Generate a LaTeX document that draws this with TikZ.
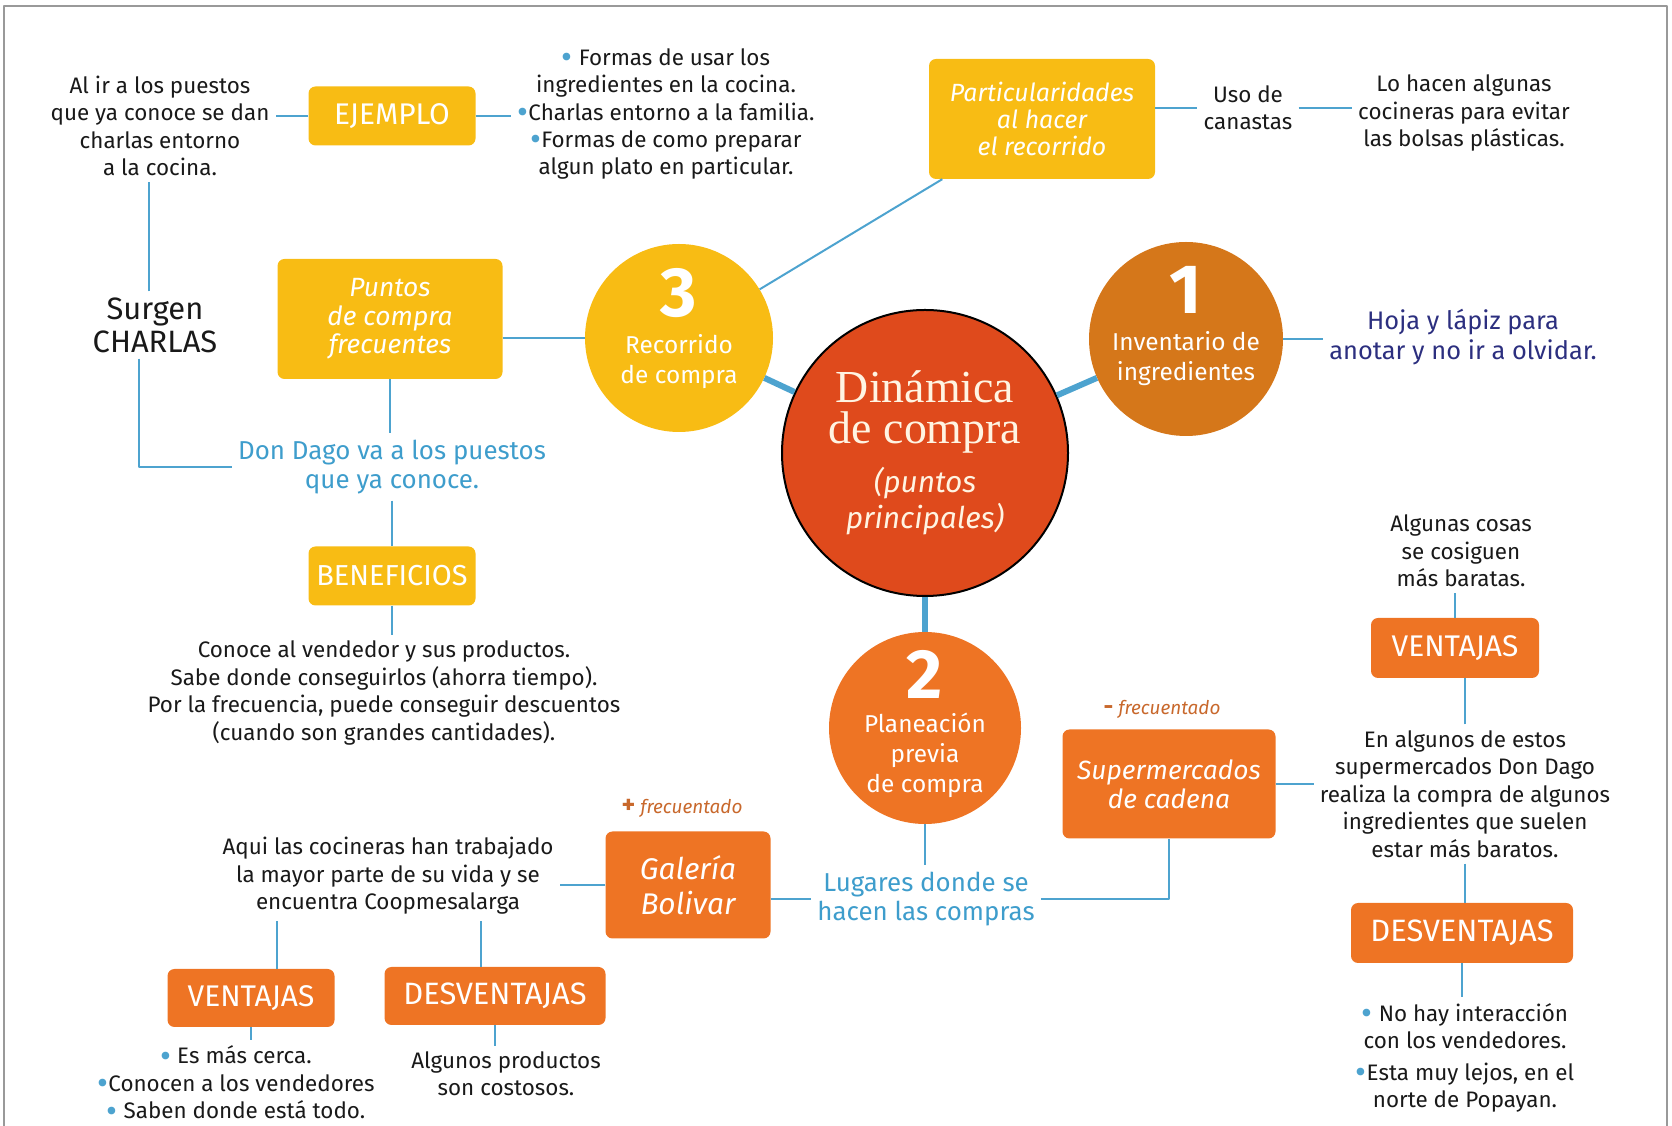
\documentclass[tikz,border=0pt]{standalone}
\usepackage{fontspec}
\setmainfont{Fira Sans}
\newfontfamily\titlefont{Liberation Serif}
\definecolor{cyellow}{HTML}{F8BC14}
\definecolor{corange}{HTML}{EE7424}
\definecolor{cdark}{HTML}{D5771A}
\definecolor{cred}{HTML}{DF4A1C}
\definecolor{lblue}{HTML}{4DA3CF}
\definecolor{tblue}{HTML}{3E9DCC}
\definecolor{navy}{HTML}{2C2F7F}
\definecolor{frec}{HTML}{C8682C}
\definecolor{cream}{HTML}{FFF4E2}
\newcommand\bluedot{\raisebox{-0.15em}{\color{lblue}\scalebox{1.5}{\textbullet}}}
\begin{document}
\begin{tikzpicture}[line join=bevel,
  frame/.style={gray!80,line width=2bp},
  hub/.style={lblue,line width=6bp},
  conn/.style={lblue,line width=2bp},
  txt/.style={align=center,inner sep=6bp,text=black!90,font=\fontsize{22.5}{27.5}\selectfont},
  bluetxt/.style={txt,text=tblue,font=\fontsize{26}{30}\selectfont},
  frectxt/.style={inner sep=2bp,text=frec,font=\fontsize{19}{22}\selectfont},
  circ/.style={circle,inner sep=0pt},
  num/.style={inner sep=0pt,text=white,font=\bfseries\fontsize{70}{70}\selectfont},
  circtxt/.style={align=center,inner sep=0pt,text=white,font=\fontsize{24.5}{30}\selectfont},
  box/.style={rounded corners=7bp,inner sep=0pt,align=center,text=white},
  capbox/.style={box,font=\fontsize{30}{32}\selectfont},
  itbox/.style={box,font=\itshape\fontsize{25}{27.5}\selectfont},
]
\useasboundingbox (0bp,0bp) rectangle (1672bp,1126bp);
%%
\draw [frame] (4bp,0bp) -- (4bp,1120bp) -- (1667bp,1120bp) -- (1667bp,0bp);
%%
\node (node_center) at (925bp,673bp) [circ,fill=cred,draw=black,line width=2bp,minimum size=286bp] {};
  \node (node_title) at (925bp,714bp) [align=center,inner sep=0pt,text=cream,font=\titlefont\fontsize{46}{41}\selectfont] {Dinámica\\de compra};
  \node (node_sub) at (925bp,625bp) [align=center,inner sep=0pt,text=cream,font=\itshape\fontsize{30}{36}\selectfont] {(puntos\\principales)};
\node (node_c1) at (1186bp,787bp) [circ,fill=cdark,minimum size=194bp] {};
  \node (node_n1) at (1186bp,836bp) [num] {1};
  \node (node_t1) at (1186bp,767bp) [circtxt] {Inventario de\\ingredientes};
\node (node_c3) at (679bp,788bp) [circ,fill=cyellow,minimum size=188bp] {};
  \node (node_n3) at (679bp,833bp) [num] {3};
  \node (node_t3) at (679bp,764bp) [circtxt] {Recorrido\\de compra};
\node (node_c2) at (925bp,398bp) [circ,fill=corange,minimum size=192bp] {};
  \node (node_n2) at (925bp,452bp) [num] {2};
  \node (node_t2) at (925bp,371bp) [circtxt] {Planeación\\previa\\de compra};
%%
\node (node_part) at (1042bp,1007bp) [itbox,fill=cyellow,minimum width=226bp,minimum height=120bp] {Particularidades\\al hacer\\el recorrido};
\node (node_puntos) at (390bp,807bp) [itbox,fill=cyellow,minimum width=225bp,minimum height=120bp,font=\itshape\fontsize{26.5}{28.5}\selectfont] {Puntos\\de compra\\frecuentes};
\node (node_ejemplo) at (392bp,1010bp) [capbox,fill=cyellow,minimum width=167bp,minimum height=59bp] {EJEMPLO};
\node (node_benef) at (392bp,550bp) [capbox,fill=cyellow,minimum width=167bp,minimum height=59bp,font=\fontsize{29}{32}\selectfont] {BENEFICIOS};
\node (node_galeria) at (688bp,241bp) [itbox,fill=corange,minimum width=165bp,minimum height=107bp,font=\itshape\fontsize{30}{35}\selectfont] {Galería\\Bolivar};
\node (node_ventL) at (251bp,128bp) [capbox,fill=corange,minimum width=167bp,minimum height=58bp] {VENTAJAS};
\node (node_desvL) at (495bp,130bp) [capbox,fill=corange,minimum width=221bp,minimum height=58bp,font=\fontsize{31}{32}\selectfont] {DESVENTAJAS};
\node (node_super) at (1169bp,342bp) [itbox,fill=corange,minimum width=213bp,minimum height=109bp,font=\itshape\fontsize{26.5}{29.5}\selectfont] {Supermercados\\de cadena};
\node (node_ventR) at (1455bp,478bp) [capbox,fill=corange,minimum width=168bp,minimum height=60bp] {VENTAJAS};
\node (node_desvR) at (1462bp,193bp) [capbox,fill=corange,minimum width=222bp,minimum height=60bp,font=\fontsize{31}{32}\selectfont] {DESVENTAJAS};
%%
\node (node_uso) at (1248bp,1018bp) [txt] {Uso de\\canastas};
\node (node_lohacen) at (1464bp,1013bp) [txt] {Lo hacen algunas\\cocineras para evitar\\las bolsas plásticas.};
\node (node_alir) at (160bp,1000bp) [txt] {Al ir a los puestos\\que ya conoce se dan\\charlas entorno\\a la cocina.};
\node (node_ej) at (666bp,1012bp) [txt] {\bluedot\ Formas de usar los\\ingredientes en la cocina.\\\bluedot Charlas entorno a la familia.\\\bluedot Formas de como preparar\\algun plato en particular.};
\node (node_surgen) at (155bp,801bp) [txt,font=\fontsize{31}{33}\selectfont] {Surgen\\CHARLAS};
\node (node_dondago) at (392bp,659bp) [bluetxt] {Don Dago va a los puestos\\que ya conoce.};
\node (node_conoce) at (384bp,433bp) [txt] {Conoce al vendedor y sus productos.\\Sabe donde conseguirlos (ahorra tiempo).\\Por la frecuencia, puede conseguir descuentos\\(cuando son grandes cantidades).};
\node (node_hoja) at (1463bp,789bp) [txt,text=navy,font=\fontsize{25.5}{30}\selectfont] {Hoja y lápiz para\\anotar y no ir a olvidar.};
\node (node_lugares) at (926bp,227bp) [bluetxt] {Lugares donde se\\hacen las compras};
\node (node_aqui) at (388bp,250bp) [txt] {Aqui las cocineras han trabajado\\la mayor parte de su vida y se\\encuentra Coopmesalarga};
\node (node_ventLtxt) at (236bp,42bp) [txt] {\bluedot\ Es más cerca.\\\bluedot Conocen a los vendedores\\\bluedot\ Saben donde está todo.};
\node (node_costosos) at (506bp,52bp) [txt] {Algunos productos\\son costosos.};
\node (node_algunas) at (1461bp,575bp) [txt] {Algunas cosas\\se cosiguen\\más baratas.};
\node (node_enalgunos) at (1465bp,332bp) [txt] {En algunos de estos\\supermercados Don Dago\\realiza la compra de algunos\\ingredientes que suelen\\estar más baratos.};
\node (node_nohay) at (1465bp,68bp) [txt] {\bluedot\ No hay interacción\\con los vendedores.\\[4bp]\bluedot Esta muy lejos, en el\\norte de Popayan.};
\node (node_fmas) at (682bp,318bp) [frectxt] {{\bfseries\fontsize{26}{22}\selectfont +} \textit{frecuentado}};
\node (node_fmenos) at (1162bp,417bp) [frectxt] {{\bfseries\fontsize{24}{22}\selectfont -} \textit{frecuentado}};
%
\draw [hub] (node_center) -- (node_c3);
\draw [hub] (node_center) -- (node_c1);
\draw [hub] (node_center) -- (node_c2);
%
\draw [conn] ([xshift=-6bp]node_surgen.north) -- ([xshift=-6bp]node_surgen.north |- node_alir.south);
\draw [conn] (node_ejemplo.west) -- (node_ejemplo.west -| node_alir.east);
\draw [conn] (node_ejemplo.east) -- (node_ejemplo.east -| node_ej.west);
\draw [conn] (node_puntos.east |- node_c3.west) -- (node_c3.west);
\draw [conn] (node_puntos.south) -- (node_puntos.south |- node_dondago.north);
\draw [conn] ([xshift=-16bp]node_surgen.south) |- (node_dondago.west);
\draw [conn] (node_dondago.south) -- (node_benef.north);
\draw [conn] (node_benef.south) -- (node_benef.south |- node_conoce.north);
\draw [conn] (node_c3) -- (node_part);
\draw [conn] (node_part.east |- node_uso.west) -- (node_uso.west);
\draw [conn] (node_uso.east) -- (node_uso.east -| node_lohacen.west);
\draw [conn] (node_c1.east) -- (node_c1.east -| node_hoja.west);
\draw [conn] (node_c2.south) -- (node_c2.south |- node_lugares.north);
\draw [conn] (node_galeria.east |- node_lugares.west) -- (node_lugares.west);
\draw [conn] (node_lugares.east) -| (node_super.south);
\draw [conn] (node_super.east) -- (node_super.east -| node_enalgunos.west);
\draw [conn] (node_enalgunos.north) -- (node_enalgunos.north |- node_ventR.south);
\draw [conn] (node_ventR.north) -- (node_ventR.north |- node_algunas.south);
\draw [conn] (node_enalgunos.south) -- (node_enalgunos.south |- node_desvR.north);
\draw [conn] (node_desvR.south) -- (node_desvR.south |- node_nohay.north);
\draw [conn] (node_galeria.west) -- (node_galeria.west -| node_aqui.east);
\draw [conn] ([xshift=26bp]node_ventL.north) -- ([xshift=26bp]node_ventL.north |- node_aqui.south);
\draw [conn] ([xshift=-14bp]node_desvL.north) -- ([xshift=-14bp]node_desvL.north |- node_aqui.south);
\draw [conn] (node_ventL.south) -- (node_ventL.south |- node_ventLtxt.north);
\draw [conn] (node_desvL.south) -- (node_desvL.south |- node_costosos.north);
%
\end{tikzpicture}
\end{document}
